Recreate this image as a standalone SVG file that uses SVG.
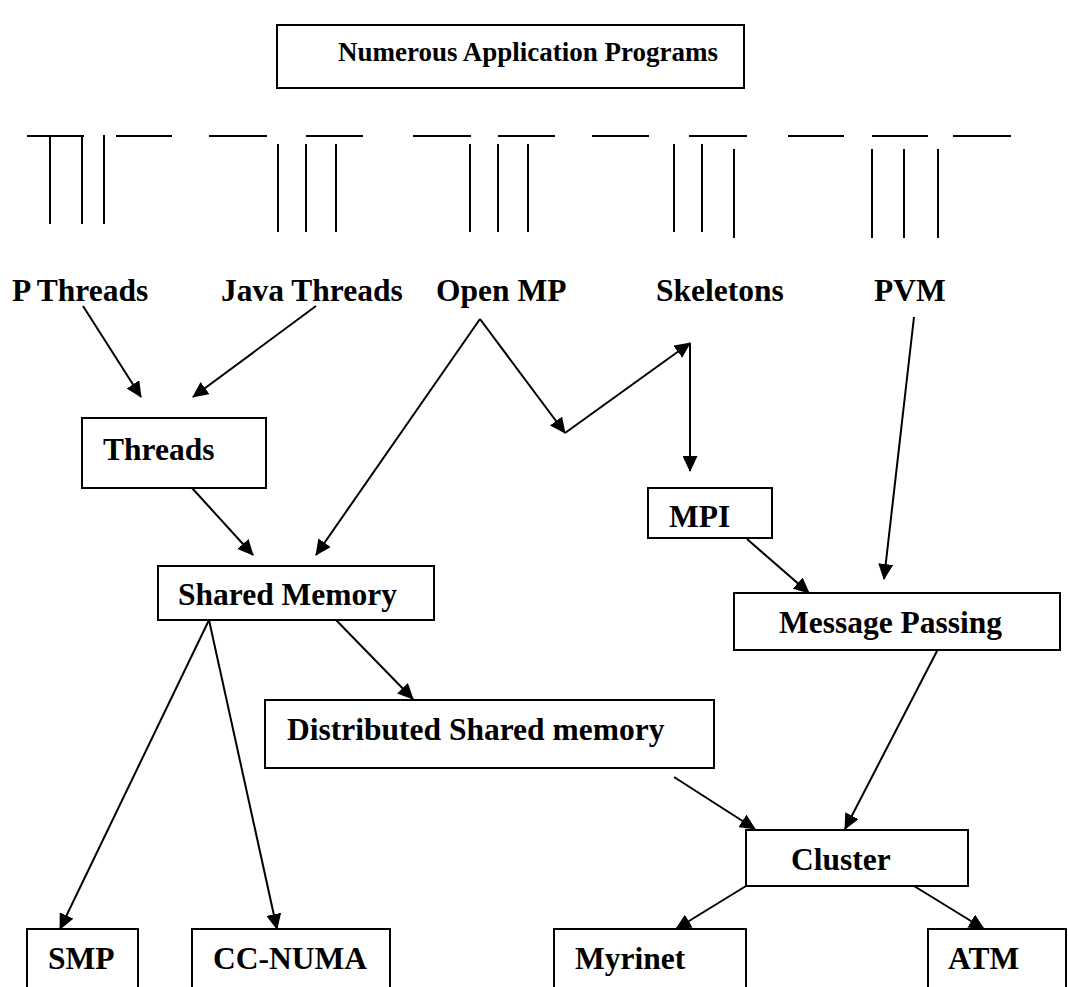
<svg xmlns="http://www.w3.org/2000/svg" width="1068" height="987" viewBox="0 0 1068 987">
<style>
.box{fill:#fff;stroke:#000;stroke-width:2}
.t{font-family:"Liberation Serif","Times New Roman",serif;font-weight:bold;font-size:31.5px;fill:#000}
.tt{font-family:"Liberation Serif","Times New Roman",serif;font-weight:bold;font-size:27px;fill:#000}
.c{stroke:#000;stroke-width:2;fill:none}
.a{stroke:#000;stroke-width:2;fill:none;marker-end:url(#ah)}
</style>
<defs>
<marker id="ah" markerUnits="userSpaceOnUse" markerWidth="16" markerHeight="15" refX="15" refY="7.5" orient="auto" viewBox="0 0 16 15">
<path d="M0,0 L16,7.5 L0,15 z" fill="#000"/>
</marker>
</defs>
<rect width="1068" height="987" fill="#fff"/>
<g id="title"><rect class="box" x="277" y="25" width="467" height="63"/><text class="tt" x="338" y="61">Numerous Application Programs</text></g>
<g id="bars" class="c">
<line x1="27" y1="136" x2="84" y2="136"/><line x1="116" y1="136" x2="172" y2="136"/><line x1="209" y1="136" x2="267" y2="136"/><line x1="306" y1="136" x2="363" y2="136"/><line x1="413" y1="136" x2="471" y2="136"/><line x1="498" y1="136" x2="555" y2="136"/><line x1="592" y1="136" x2="649" y2="136"/><line x1="689" y1="136" x2="747" y2="136"/><line x1="788" y1="136" x2="844" y2="136"/><line x1="872" y1="136" x2="928" y2="136"/><line x1="953" y1="136" x2="1011" y2="136"/>
<line x1="50" y1="136" x2="50" y2="224"/><line x1="82" y1="136" x2="82" y2="224"/><line x1="104" y1="135" x2="104" y2="224"/>
<line x1="278" y1="144" x2="278" y2="232"/><line x1="306" y1="144" x2="306" y2="232"/><line x1="336" y1="144" x2="336" y2="232"/>
<line x1="470" y1="144" x2="470" y2="232"/><line x1="498" y1="144" x2="498" y2="232"/><line x1="528" y1="144" x2="528" y2="232"/>
<line x1="674" y1="144" x2="674" y2="232"/><line x1="702" y1="144" x2="702" y2="232"/><line x1="734" y1="149" x2="734" y2="238"/>
<line x1="872" y1="149" x2="872" y2="238"/><line x1="904" y1="149" x2="904" y2="238"/><line x1="938" y1="149" x2="938" y2="238"/>
</g>
<g id="pthreads"><text class="t" x="12" y="301">P Threads</text></g>
<g id="javathreads"><text class="t" x="221" y="301">Java Threads</text></g>
<g id="openmp"><text class="t" x="436" y="301">Open MP</text></g>
<g id="skeletons"><text class="t" x="656" y="301">Skeletons</text></g>
<g id="pvm"><text class="t" x="874" y="301">PVM</text></g>
<g id="threads"><rect class="box" x="82" y="418" width="184" height="70"/><text class="t" x="103" y="460">Threads</text></g>
<g id="sharedmemory"><rect class="box" x="158" y="566" width="276" height="54"/><text class="t" x="178" y="605">Shared Memory</text></g>
<g id="mpi"><rect class="box" x="648" y="488" width="124" height="50"/><text class="t" x="669" y="527">MPI</text></g>
<g id="messagepassing"><rect class="box" x="734" y="593" width="326" height="57"/><text class="t" x="779" y="633">Message Passing</text></g>
<g id="dsm"><rect class="box" x="265" y="700" width="449" height="68"/><text class="t" x="287" y="740">Distributed Shared memory</text></g>
<g id="cluster"><rect class="box" x="746" y="830" width="222" height="56"/><text class="t" x="791" y="870">Cluster</text></g>
<g id="smp"><rect class="box" x="27" y="929" width="111" height="62"/><text class="t" x="48" y="969">SMP</text></g>
<g id="ccnuma"><rect class="box" x="192" y="929" width="198" height="62"/><text class="t" x="213" y="969">CC-NUMA</text></g>
<g id="myrinet"><rect class="box" x="554" y="929" width="192" height="62"/><text class="t" x="575" y="969">Myrinet</text></g>
<g id="atm"><rect class="box" x="928" y="929" width="138" height="62"/><text class="t" x="948" y="969">ATM</text></g>
<g id="connectors">
<line class="a" x1="83" y1="306" x2="141" y2="397"/>
<line class="a" x1="316" y1="306" x2="193" y2="397"/>
<line class="a" x1="480" y1="319" x2="316" y2="555"/>
<line class="a" x1="480" y1="319" x2="565" y2="433"/>
<line class="a" x1="565" y1="433" x2="690" y2="343"/>
<line class="a" x1="690" y1="343" x2="690" y2="471"/>
<line class="a" x1="914" y1="317" x2="884" y2="579"/>
<line class="a" x1="192" y1="488" x2="253" y2="555"/>
<line class="a" x1="747" y1="539" x2="809" y2="593"/>
<line class="a" x1="209" y1="620" x2="60" y2="929"/>
<line class="a" x1="209" y1="620" x2="277" y2="929"/>
<line class="a" x1="336" y1="620" x2="413" y2="699"/>
<line class="a" x1="674" y1="777" x2="755" y2="829"/>
<line class="a" x1="937" y1="651" x2="845" y2="829"/>
<line class="a" x1="746" y1="886" x2="676" y2="929"/>
<line class="a" x1="914" y1="886" x2="984" y2="929"/>
</g>
</svg>
